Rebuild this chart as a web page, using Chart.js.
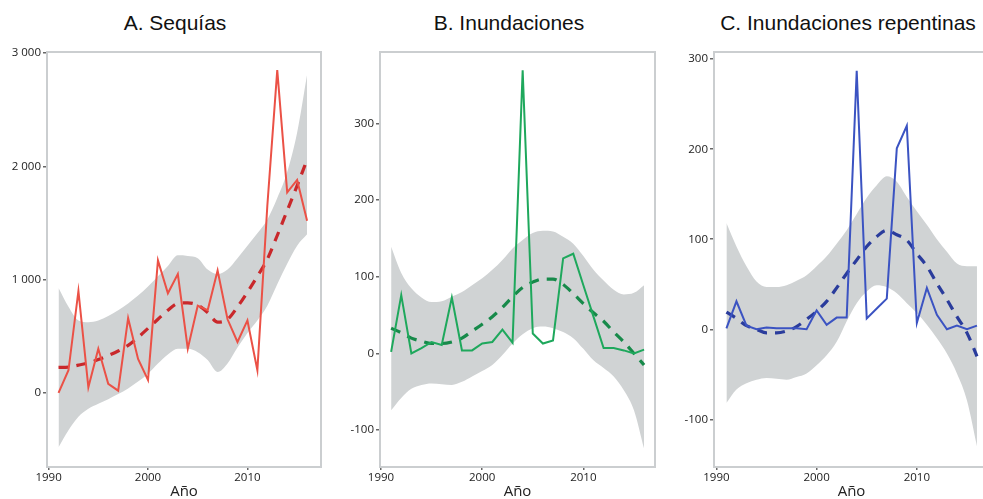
<!DOCTYPE html>
<html>
<head>
<meta charset="utf-8">
<script src="https://cdn.jsdelivr.net/npm/chart.js@4/dist/chart.umd.min.js"></script>
<style>
  html, body { margin: 0; padding: 0; background: #fff; }
  body { position: relative; width: 983px; height: 499px; overflow: hidden; }
  canvas { position: absolute; top: 0; }
  .title {
    position: absolute; top: 11px; width: 320px; margin-left: -160px;
    text-align: center; font: 21px "Liberation Sans", Arial, sans-serif;
    line-height: 24px; color: #111; white-space: nowrap;
  }
</style>
</head>
<body>
<div class="title" style="left:175px">A. Sequías</div>
<div class="title" style="left:509px">B. Inundaciones</div>
<div class="title" style="left:848px">C. Inundaciones repentinas</div>
<canvas id="chartA" width="330" height="499" style="left:0"></canvas>
<canvas id="chartB" width="330" height="499" style="left:330px"></canvas>
<canvas id="chartC" width="340" height="499" style="left:660px"></canvas>
<script>
// Years shared by all three panels
const years = [1991, 1992, 1993, 1994, 1995, 1996, 1997, 1998, 1999, 2000, 2001, 2002, 2003,
               2004, 2005, 2006, 2007, 2008, 2009, 2010, 2011, 2012, 2013, 2014, 2015, 2016];
const xTicks = [1990, 2000, 2010];

// A. Sequías
const droughtValues = [0, 200, 900, 50, 390, 80, 20, 660, 300, 115, 1170, 880, 1050,
                       390, 770, 730, 1080, 650, 450, 640, 200, 1650, 2850, 1770, 1880, 1520];
const droughtTrend = [225, 228, 245, 265, 295, 330, 370, 420, 490, 570, 650, 730, 790,
                      795, 775, 710, 625, 650, 760, 890, 1030, 1180, 1390, 1610, 1830, 2060];
const droughtUpper = [926, 760, 640, 625, 640, 680, 730, 790, 860, 940, 1030, 1120, 1215,
                      1210, 1190, 1090, 1050, 1090, 1190, 1300, 1410, 1530, 1720, 1950, 2300, 2810];
const droughtLower = [-480, -330, -210, -140, -95, -55, -10, 40, 100, 170, 260, 340, 390,
                      390, 360, 290, 185, 260, 400, 530, 640, 770, 960, 1140, 1300, 1400];
const droughtTicks = [0, 1000, 2000, 3000];

// B. Inundaciones
const floodValues = [2, 76, 0, 7, 15, 11, 73, 4, 4, 13, 15, 31, 14,
                     369, 26, 13, 17, 124, 130, 89, 48, 7, 7, 4, 0, 5];
const floodTrend = [33, 27, 20, 16, 13, 13, 15, 20, 29, 38, 48, 60, 74,
                    86, 93, 97, 97, 90, 78, 65, 53, 42, 28, 15, 0, -15];
const floodUpper = [139, 105, 85, 73, 67, 68, 74, 80, 89, 98, 109, 122, 137,
                    148, 157, 160, 159, 152, 143, 127, 109, 95, 83, 77, 79, 89];
const floodLower = [-74, -58, -46, -41, -39, -40, -41, -37, -30, -23, -15, -2, 13,
                    25, 33, 35, 33, 28, 20, 6, -9, -19, -30, -48, -74, -124];
const floodTicks = [-100, 0, 100, 200, 300];

// C. Inundaciones repentinas
const flashValues = [1, 31, 4, 0, 2, 1, 1, 1, 0, 21, 5, 13, 13,
                     287, 12, 23, 34, 201, 226, 7, 46, 16, 0, 4, 0, 4];
const flashTrend = [19, 12, 4, 0, -4, -4, -2, 3, 11, 20, 31, 46, 62,
                    77, 92, 103, 110, 105, 99, 84, 70, 51, 33, 14, -4, -30];
const flashUpper = [118, 92, 70, 53, 47, 47, 49, 54, 60, 70, 81, 95, 110,
                    128, 146, 160, 170, 164, 147, 131, 116, 100, 86, 73, 70, 70];
const flashLower = [-82, -67, -60, -56, -54, -55, -56, -53, -49, -40, -29, -14, 9,
                    29, 42, 49, 47, 40, 29, 18, 5, -10, -27, -49, -79, -130];
const flashTicks = [-100, 0, 100, 200, 300];

const BAND = '#d0d3d4';
const FONT = '"Open Sans", "DejaVu Sans", sans-serif';

// grey box around the plot area
const framePlugin = {
  id: 'frame',
  afterDatasetsDraw(chart) {
    const { ctx, chartArea: a } = chart;
    ctx.save();
    ctx.strokeStyle = '#cbced0';
    ctx.lineWidth = 2;
    ctx.strokeRect(a.left, a.top, a.right - a.left, a.bottom - a.top);
    ctx.restore();
  }
};

const toPoints = vals => years.map((yr, i) => ({ x: yr, y: vals[i] }));

const fmtThousands = v => {
  const s = String(Math.abs(v)).replace(/\B(?=(\d{3})+$)/g, ' ');
  return (v < 0 ? '-' : '') + s;
};

function makePanel(id, cfg) {
  const ctx = document.getElementById(id);
  return new Chart(ctx, {
    type: 'line',
    data: {
      datasets: [
        {
          data: toPoints(cfg.values),
          borderColor: cfg.color,
          borderWidth: 2,
          tension: 0,
          pointRadius: 0,
          fill: false
        },
        {
          data: toPoints(cfg.trend),
          borderColor: cfg.trendColor,
          borderWidth: 3.2,
          borderDash: [10, 8],
          cubicInterpolationMode: 'monotone',
          pointRadius: 0,
          fill: false
        },
        {
          data: toPoints(cfg.upper),
          borderWidth: 0,
          borderColor: 'transparent',
          backgroundColor: BAND,
          cubicInterpolationMode: 'monotone',
          pointRadius: 0,
          fill: '+1'
        },
        {
          data: toPoints(cfg.lower),
          borderWidth: 0,
          borderColor: 'transparent',
          cubicInterpolationMode: 'monotone',
          pointRadius: 0,
          fill: false
        }
      ]
    },
    options: {
      responsive: false,
      animation: false,
      layout: { padding: { top: 52, right: cfg.padRight, left: 0, bottom: 0 } },
      plugins: { legend: { display: false }, tooltip: { enabled: false } },
      scales: {
        x: {
          type: 'linear',
          min: cfg.xMin,
          max: cfg.xMax,
          afterBuildTicks: axis => { axis.ticks = xTicks.map(v => ({ value: v })); },
          afterFit: s => { s.height = 32; },
          border: { display: false },
          grid: { drawOnChartArea: false, drawTicks: true, tickLength: 3, color: '#666', lineWidth: 1.5 },
          ticks: { padding: 1, color: '#222', font: { family: FONT, size: 11.5 }, callback: v => String(v), maxRotation: 0 },
          title: { display: true, text: 'Año', color: '#222', font: { family: FONT, size: 15 }, padding: { top: 0, bottom: -2 } }
        },
        y: {
          min: cfg.yMin,
          max: cfg.yMax,
          afterBuildTicks: axis => { axis.ticks = cfg.yTicks.map(v => ({ value: v })); },
          afterFit: s => { s.width = cfg.axisWidth; },
          border: { display: false },
          grid: { drawOnChartArea: false, drawTicks: true, tickLength: 4, color: '#666', lineWidth: 1.5 },
          ticks: { padding: 2, color: '#222', font: { family: FONT, size: 11.5 }, callback: fmtThousands }
        }
      }
    },
    plugins: [framePlugin]
  });
}

makePanel('chartA', {
  values: droughtValues, trend: droughtTrend, upper: droughtUpper, lower: droughtLower,
  yTicks: droughtTicks, yMin: -654, yMax: 3010, xMin: 1989.84, xMax: 2017.4,
  color: '#eb5146', trendColor: '#c9282b', axisWidth: 47, padRight: 9
});
makePanel('chartB', {
  values: floodValues, trend: floodTrend, upper: floodUpper, lower: floodLower,
  yTicks: floodTicks, yMin: -148, yMax: 393, xMin: 1989.9, xMax: 2017.08,
  color: '#1ea85c', trendColor: '#178a4a', axisWidth: 50, padRight: 5
});
makePanel('chartC', {
  values: flashValues, trend: flashTrend, upper: flashUpper, lower: flashLower,
  yTicks: flashTicks, yMin: -153, yMax: 308, xMin: 1989.76, xMax: 2017.2,
  color: '#3b53c2', trendColor: '#2a3c9c', axisWidth: 54, padRight: 11
});
</script>
</body>
</html>
